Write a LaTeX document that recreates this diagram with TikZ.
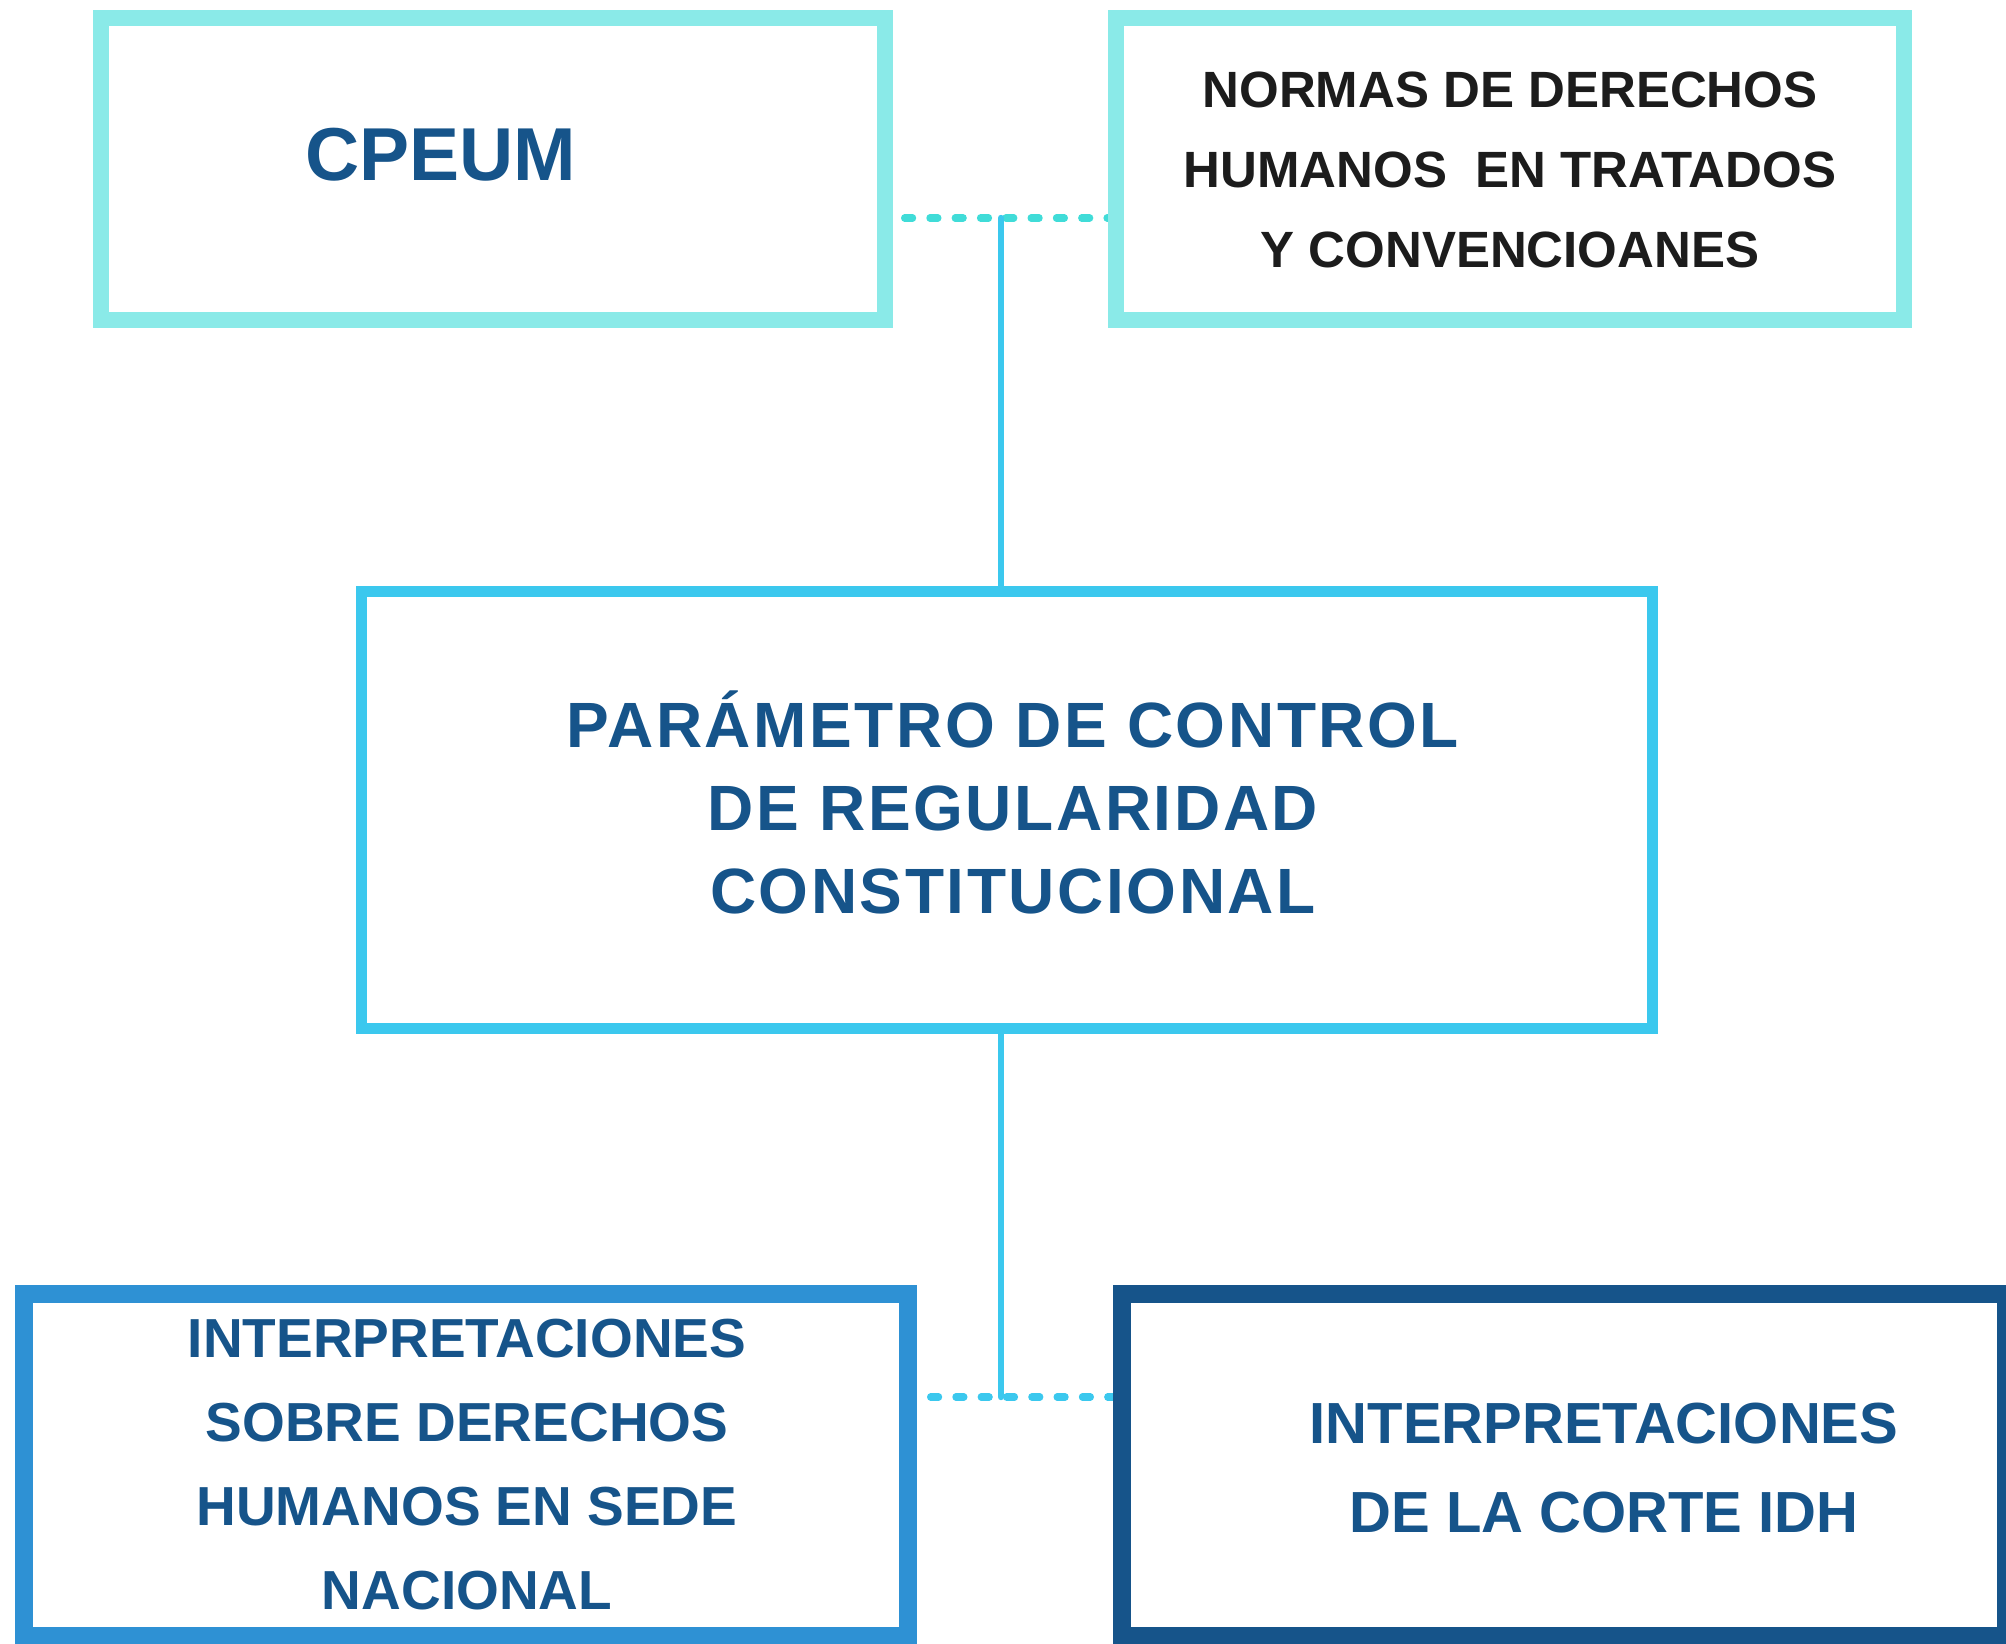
\documentclass[tikz,border=0pt]{standalone}
\usepackage{fontspec}
\setmainfont{Liberation Sans}
\newfontfamily\espaciada[LetterSpace=4]{Liberation Sans}
\usetikzlibrary{positioning,backgrounds}
\definecolor{turq}{RGB}{138,234,232}
\definecolor{turqdot}{RGB}{64,220,216}
\definecolor{cielo}{RGB}{59,200,238}
\definecolor{azul}{RGB}{46,145,212}
\definecolor{marino}{RGB}{22,84,138}
\definecolor{negro}{RGB}{28,28,28}
\begin{document}
\begin{tikzpicture}[x=0.5pt, y=-0.5pt]
        \tikzset{ block/.style={rectangle,draw,fill=white,inner sep=0pt},
                txt/.style={align=center,text=marino},
                linea/.style={cielo,line width=3.2pt,line cap=round},
                puntos/.style={line width=3.6pt,line cap=round,dash pattern=on 4pt off 8.65pt}}
        \useasboundingbox (0,0) rectangle (2006,1643);

        \node[block, draw=turq, line width=8pt, minimum width=392pt, minimum height=151pt] (cpeum) at (493,169) {};
        \node[block, draw=turq, line width=8pt, minimum width=394pt, minimum height=151pt] (normas) at (1510,169) {};
        \node[block, draw=cielo, line width=5.5pt, minimum width=645.75pt, minimum height=218.75pt] (param) at (1006.75,809.75) {};
        \node[block, draw=azul, line width=9pt, minimum width=442pt, minimum height=171pt] (nacional) at (466,1465) {};
        \node[block, draw=marino, line width=9pt, minimum width=442pt, minimum height=171pt] (corte) at (1564,1465) {};

        % Textos
        \node[txt, font=\bfseries\fontsize{37.5}{45}\selectfont] (tcpeum) at (441,155) {CPEUM};
        \node[txt, text=negro, font=\bfseries\fontsize{25.5}{40}\selectfont] (tnormas) at (1510,170)
                {NORMAS DE DERECHOS\\HUMANOS\ \ EN TRATADOS\\Y CONVENCIOANES};
        \node[txt, font=\espaciada\bfseries\fontsize{32}{41.5}\selectfont] (tparam) at (1013,802)
                {PARÁMETRO DE CONTROL\\DE REGULARIDAD\\CONSTITUCIONAL};
        \node[txt, font=\bfseries\fontsize{27.5}{42}\selectfont] (tnacional) at (467,1465)
                {INTERPRETACIONES\\SOBRE DERECHOS\\HUMANOS EN SEDE\\NACIONAL};
        \node[txt, font=\bfseries\fontsize{29}{44.5}\selectfont] (tcorte) at (1604,1468)
                {INTERPRETACIONES\\DE LA CORTE IDH};

        % Conectores
        \coordinate (arriba) at (1001,218);
        \coordinate (abajo) at (1001,1397);
        \begin{pgfonlayer}{background}
        \draw[puntos, turqdot, shorten <=5.8pt] (cpeum.east |- arriba) -- (normas.west |- arriba);
        \draw[puntos, cielo, shorten <=6.8pt] (nacional.east |- abajo) -- (corte.west |- abajo);
        \end{pgfonlayer}
        \draw[linea] (arriba) -- (arriba |- param.north);
        \draw[linea] (abajo |- param.south) -- (abajo);
\end{tikzpicture}
\end{document}
